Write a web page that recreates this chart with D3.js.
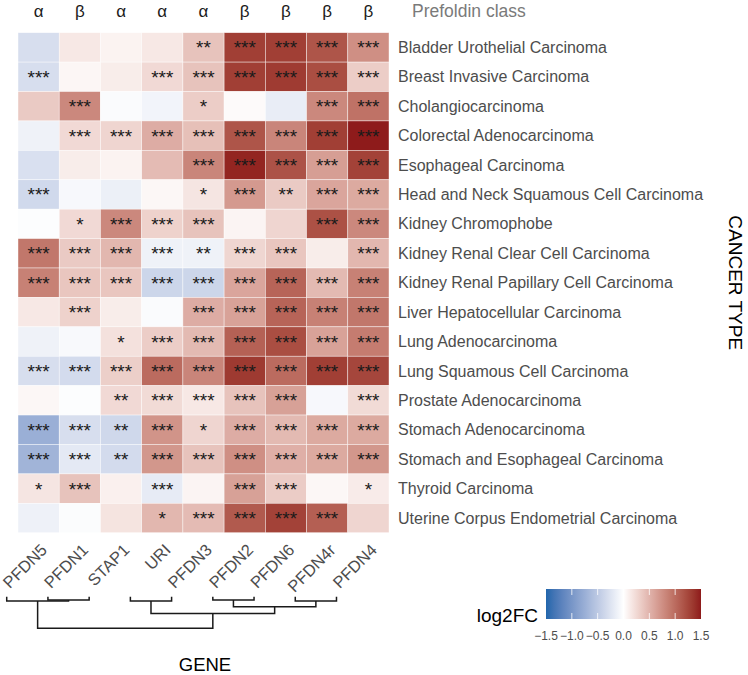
<!DOCTYPE html>
<html>
<head>
<meta charset="utf-8">
<script src="https://cdn.jsdelivr.net/npm/d3@7"></script>
<style>
  html, body { margin: 0; padding: 0; background: #ffffff; }
  svg { display: block; font-family: "Liberation Sans", Arial, Helvetica, sans-serif; }
</style>
</head>
<body>
<svg id="chart" width="748" height="675"></svg>
<script>
// ---------------- DATA ----------------
const genes = ["PFDN5", "PFDN1", "STAP1", "URI", "PFDN3", "PFDN2", "PFDN6", "PFDN4r", "PFDN4"];
const geneClass = ["α", "β", "α", "α", "α", "β", "β", "β", "β"];
const cancers = [
  "Bladder Urothelial Carcinoma",
  "Breast Invasive Carcinoma",
  "Cholangiocarcinoma",
  "Colorectal Adenocarcinoma",
  "Esophageal Carcinoma",
  "Head and Neck Squamous Cell Carcinoma",
  "Kidney Chromophobe",
  "Kidney Renal Clear Cell Carcinoma",
  "Kidney Renal Papillary Cell Carcinoma",
  "Liver Hepatocellular Carcinoma",
  "Lung Adenocarcinoma",
  "Lung Squamous Cell Carcinoma",
  "Prostate Adenocarcinoma",
  "Stomach Adenocarcinoma",
  "Stomach and Esophageal Carcinoma",
  "Thyroid Carcinoma",
  "Uterine Corpus Endometrial Carcinoma"
];
// log2 fold change, rows = cancers, columns = genes
const log2FC = [
  [-0.30, 0.15, 0.08, 0.15, 0.40, 1.30, 1.30, 1.15, 0.75],
  [-0.30, 0.06, 0.12, 0.25, 0.40, 1.30, 1.32, 1.20, 0.33],
  [ 0.35, 0.80,-0.04,-0.10, 0.33, 0.03,-0.16, 0.80, 0.95],
  [-0.12, 0.25, 0.28, 0.55, 0.42, 1.15, 0.82, 1.30, 1.50],
  [-0.28, 0.12, 0.08, 0.45, 0.82, 1.45, 1.17, 0.65, 1.28],
  [-0.35,-0.06,-0.14, 0.05, 0.17, 0.68, 0.35, 0.60, 0.57],
  [-0.02, 0.25, 0.80, 0.30, 0.40, 0.07, 0.28, 1.18, 0.80],
  [ 0.92, 0.35, 0.48,-0.12,-0.12, 0.27, 0.38, 0.12, 0.48],
  [ 0.85, 0.38, 0.38,-0.38,-0.38, 0.60, 1.05, 0.46, 0.85],
  [ 0.15, 0.30, 0.12,-0.04, 0.55, 0.62, 1.05, 0.85, 0.92],
  [-0.12,-0.05, 0.20, 0.33, 0.46, 1.07, 1.20, 0.62, 0.88],
  [-0.30,-0.33, 0.32, 1.00, 0.82, 1.33, 1.00, 1.30, 1.25],
  [ 0.05,-0.02, 0.25, 0.24, 0.15, 0.40, 0.63,-0.06, 0.24],
  [-0.75,-0.30,-0.36, 0.72, 0.28, 0.55, 0.46, 0.57, 0.57],
  [-0.70,-0.20,-0.33, 0.70, 0.40, 0.75, 0.53, 0.57, 0.70],
  [ 0.17, 0.40, 0.10,-0.18, 0.07, 0.63, 0.34, 0.05, 0.13],
  [-0.13,-0.03, 0.18, 0.48, 0.45, 1.12, 1.28, 1.08, 0.28]
];
// significance marks
const signif = [
  ["", "", "", "", "**", "***", "***", "***", "***"],
  ["***", "", "", "***", "***", "***", "***", "***", "***"],
  ["", "***", "", "", "*", "", "", "***", "***"],
  ["", "***", "***", "***", "***", "***", "***", "***", "***"],
  ["", "", "", "", "***", "***", "***", "***", "***"],
  ["***", "", "", "", "*", "***", "**", "***", "***"],
  ["", "*", "***", "***", "***", "", "", "***", "***"],
  ["***", "***", "***", "***", "**", "***", "***", "", "***"],
  ["***", "***", "***", "***", "***", "***", "***", "***", "***"],
  ["", "***", "", "", "***", "***", "***", "***", "***"],
  ["", "", "*", "***", "***", "***", "***", "***", "***"],
  ["***", "***", "***", "***", "***", "***", "***", "***", "***"],
  ["", "", "**", "***", "***", "***", "***", "", "***"],
  ["***", "***", "**", "***", "*", "***", "***", "***", "***"],
  ["***", "***", "**", "***", "***", "***", "***", "***", "***"],
  ["*", "***", "", "***", "", "***", "***", "", "*"],
  ["", "", "", "*", "***", "***", "***", "***", ""]
];
const legendTicks = [-1.5, -1.0, -0.5, 0.0, 0.5, 1.0, 1.5];
// gene dendrogram merges: [left, right, height]; ids "m1".. refer to earlier merges
const dendroMerges = [
  ["PFDN1", "STAP1", 0.7],
  ["PFDN2", "PFDN6", 0.7],
  ["PFDN5", "m1", 0.9],
  ["URI", "PFDN3", 0.9],
  ["PFDN4r", "PFDN4", 0.9],
  ["m2", "m5", 2.1],
  ["m4", "m6", 3.5],
  ["m3", "m7", 6.6]
];

// ---------------- DRAW ----------------
const svg = d3.select("#chart");
const FONT = '"Liberation Sans", Arial, Helvetica, sans-serif';

const x = d3.scaleBand().domain(genes).range([18, 389]).padding(0);
const y = d3.scaleBand().domain(cancers).range([32.7, 532.7]).padding(0);

const color = d3.scaleLinear()
  .domain([-1.5, 0, 1.5])
  .range(["#2166AC", "#ffffff", "#8E1B1B"])
  .interpolate(d3.interpolateLab)
  .clamp(true);

const cells = [];
cancers.forEach((c, i) => genes.forEach((g, j) => {
  cells.push({ cancer: c, gene: g, v: log2FC[i][j], s: signif[i][j] });
}));

svg.append("g").selectAll("rect").data(cells).join("rect")
  .attr("x", d => x(d.gene))
  .attr("y", d => y(d.cancer))
  .attr("width", x.bandwidth())
  .attr("height", y.bandwidth())
  .attr("fill", d => color(d.v))
  .attr("stroke", "rgba(255,255,255,0.7)")
  .attr("stroke-width", 0.6);

svg.append("g").selectAll("text").data(cells.filter(d => d.s)).join("text")
  .attr("x", d => x(d.gene) + x.bandwidth() / 2)
  .attr("y", d => y(d.cancer) + y.bandwidth() / 2 + 7)
  .attr("text-anchor", "middle")
  .attr("font-size", 19)
  .attr("fill", "#1a1a1a")
  .text(d => d.s);

// class labels on top
svg.append("g").selectAll("text").data(genes).join("text")
  .attr("x", d => x(d) + x.bandwidth() / 2)
  .attr("y", 17)
  .attr("text-anchor", "middle")
  .attr("font-size", 17)
  .attr("fill", "#1a1a1a")
  .text((d, i) => geneClass[i]);

svg.append("text")
  .attr("x", 412).attr("y", 17)
  .attr("font-size", 17.5)
  .attr("fill", "#7a7a7a")
  .text("Prefoldin class");

// row labels (right axis)
const yAxis = d3.axisRight(y).tickSize(0).tickPadding(9);
const gy = svg.append("g").attr("transform", "translate(389,0)").call(yAxis);
gy.select(".domain").remove();
gy.selectAll("text")
  .attr("font-family", FONT)
  .attr("font-size", 16)
  .attr("fill", "#4d4d4d")
  .attr("dy", "0.35em");

svg.append("text")
  .attr("transform", "translate(729," + ((32.7 + 532.7) / 2) + ") rotate(90)")
  .attr("text-anchor", "middle")
  .attr("font-size", 19)
  .attr("fill", "#000")
  .text("CANCER TYPE");

// column labels (rotated)
svg.append("g").selectAll("text").data(genes).join("text")
  .attr("transform", d => "translate(" + (x(d) + x.bandwidth() / 2 + 9.5) + ",551) rotate(-45)")
  .attr("text-anchor", "end")
  .attr("font-size", 16.5)
  .attr("fill", "#4d4d4d")
  .text(d => d);

// dendrogram
const leafOffset = -31.9;
const hScale = d3.scaleLinear().domain([0, 6.6]).range([596.7, 628.3]);
const nodes = {};
genes.forEach(g => { nodes[g] = { x: x(g) + x.bandwidth() / 2 + leafOffset, y: hScale(0) }; });
const dLines = [];
dendroMerges.forEach((m, k) => {
  const a = nodes[m[0]], b = nodes[m[1]], yy = hScale(m[2]);
  dLines.push([[a.x, a.y], [a.x, yy], [b.x, yy], [b.x, b.y]]);
  nodes["m" + (k + 1)] = { x: (a.x + b.x) / 2, y: yy };
});
const line = d3.line();
svg.append("g").selectAll("path").data(dLines).join("path")
  .attr("d", line)
  .attr("fill", "none")
  .attr("stroke", "#1a1a1a")
  .attr("stroke-width", 1.5);

svg.append("text")
  .attr("x", 205).attr("y", 671)
  .attr("text-anchor", "middle")
  .attr("font-size", 18.5)
  .attr("fill", "#000")
  .text("GENE");

// legend
const lx = d3.scaleLinear().domain([-1.5, 1.5]).range([546, 701]);
const defs = svg.append("defs");
const grad = defs.append("linearGradient").attr("id", "lg").attr("x1", "0%").attr("x2", "100%");
d3.range(0, 1.0001, 0.05).forEach(t => {
  grad.append("stop").attr("offset", (t * 100) + "%").attr("stop-color", color(-1.5 + 3 * t));
});
svg.append("rect")
  .attr("x", lx(-1.5)).attr("y", 589)
  .attr("width", lx(1.5) - lx(-1.5)).attr("height", 30)
  .attr("fill", "url(#lg)");
const lt = svg.append("g");
legendTicks.slice(1, -1).forEach(t => {
  lt.append("line").attr("x1", lx(t)).attr("x2", lx(t)).attr("y1", 589).attr("y2", 595)
    .attr("stroke", "#fff").attr("stroke-opacity", 0.8).attr("stroke-width", 1);
  lt.append("line").attr("x1", lx(t)).attr("x2", lx(t)).attr("y1", 613).attr("y2", 619)
    .attr("stroke", "#fff").attr("stroke-opacity", 0.8).attr("stroke-width", 1);
});
lt.selectAll("text.tl").data(legendTicks).join("text")
  .attr("class", "tl")
  .attr("x", d => lx(d))
  .attr("y", 640)
  .attr("text-anchor", "middle")
  .attr("font-size", 12)
  .attr("fill", "#4d4d4d")
  .text(d => d3.format(".1f")(d).replace("-", "\u2212"));

svg.append("text")
  .attr("x", 538).attr("y", 622)
  .attr("text-anchor", "end")
  .attr("font-size", 19)
  .attr("fill", "#000")
  .text("log2FC");
</script>
</body>
</html>
